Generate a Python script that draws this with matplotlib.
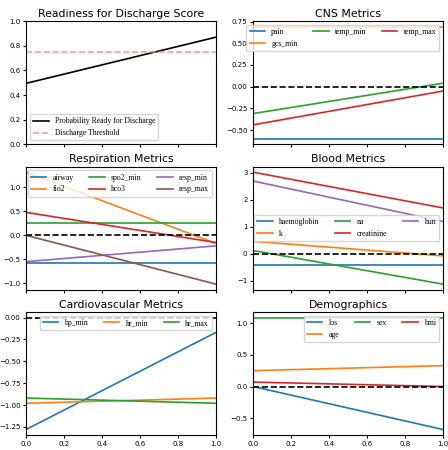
import matplotlib
matplotlib.use("Agg")
import matplotlib.pyplot as plt
from matplotlib.ticker import MaxNLocator

x = [0.0, 1.0]

readiness = [0.495, 0.87]
threshold = 0.75

cns_names = ["pain", "gcs_min", "temp_min", "temp_max"]
cns_start = [-0.60, 0.69, -0.31, -0.44]
cns_end = [-0.60, 0.69, 0.04, -0.05]

resp_names = ["airway", "fio2", "spo2_min", "hco3", "resp_min", "resp_max"]
resp_start = [-0.57, 1.32, 0.26, 0.48, -0.55, 0.0]
resp_end = [-0.57, -0.17, 0.26, -0.15, -0.22, -1.02]

blood_names = ["haemoglobin", "k", "na", "creatinine", "bun"]
blood_start = [-0.42, 0.46, 0.12, 3.03, 2.70]
blood_end = [-0.42, -0.08, -1.13, 1.70, 1.20]

cardio_names = ["bp_min", "hr_min", "hr_max"]
cardio_start = [-1.28, -0.98, -0.92]
cardio_end = [-0.17, -0.92, -0.98]

demo_names = ["los", "age", "sex", "bmi"]
demo_start = [0.0, 0.25, 1.09, 0.07]
demo_end = [-0.68, 0.33, 1.09, 0.0]

TITLE_SIZE = 7.8
TICK_SIZE = 5.0
LEGEND_FONT = {"family": "Liberation Serif", "size": 5.6}


def metric_panel(ax, title, names, start, end):
    for name, a, b in zip(names, start, end):
        ax.plot(x, [a, b], lw=1.2, label=name)
    ax.axhline(0, color="black", ls="--", lw=1.2)
    ax.set_title(title, fontsize=TITLE_SIZE, pad=3)
    ax.legend(loc="best", ncol=3, prop=LEGEND_FONT)


fig, axes = plt.subplots(3, 2, figsize=(4.48, 4.5), dpi=100, sharex=True)

ax = axes[0, 0]
ax.plot(x, readiness, color="black", lw=1.2, label="Probability Ready for Discharge")
ax.axhline(threshold, color="#ff8080", ls="--", lw=1.2, alpha=0.8, label="Discharge Threshold")
ax.set_ylim(0, 1)
ax.set_title("Readiness for Discharge Score", fontsize=TITLE_SIZE, pad=3)
ax.legend(loc="lower left", prop=LEGEND_FONT)

metric_panel(axes[0, 1], "CNS Metrics", cns_names, cns_start, cns_end)
metric_panel(axes[1, 0], "Respiration Metrics", resp_names, resp_start, resp_end)
metric_panel(axes[1, 1], "Blood Metrics", blood_names, blood_start, blood_end)
metric_panel(axes[2, 0], "Cardiovascular Metrics", cardio_names, cardio_start, cardio_end)
metric_panel(axes[2, 1], "Demographics", demo_names, demo_start, demo_end)

for a in axes.flat:
    a.set_xlim(0, 1)
    a.yaxis.set_major_locator(MaxNLocator(nbins=7, steps=[1, 2, 2.5, 5, 10]))
    a.tick_params(labelsize=TICK_SIZE, length=2.5, pad=1.5)

fig.subplots_adjust(left=0.058, right=0.989, top=0.953, bottom=0.033,
                    wspace=0.195, hspace=0.18)
fig.savefig("out.png", dpi=100)
plt.close(fig)
